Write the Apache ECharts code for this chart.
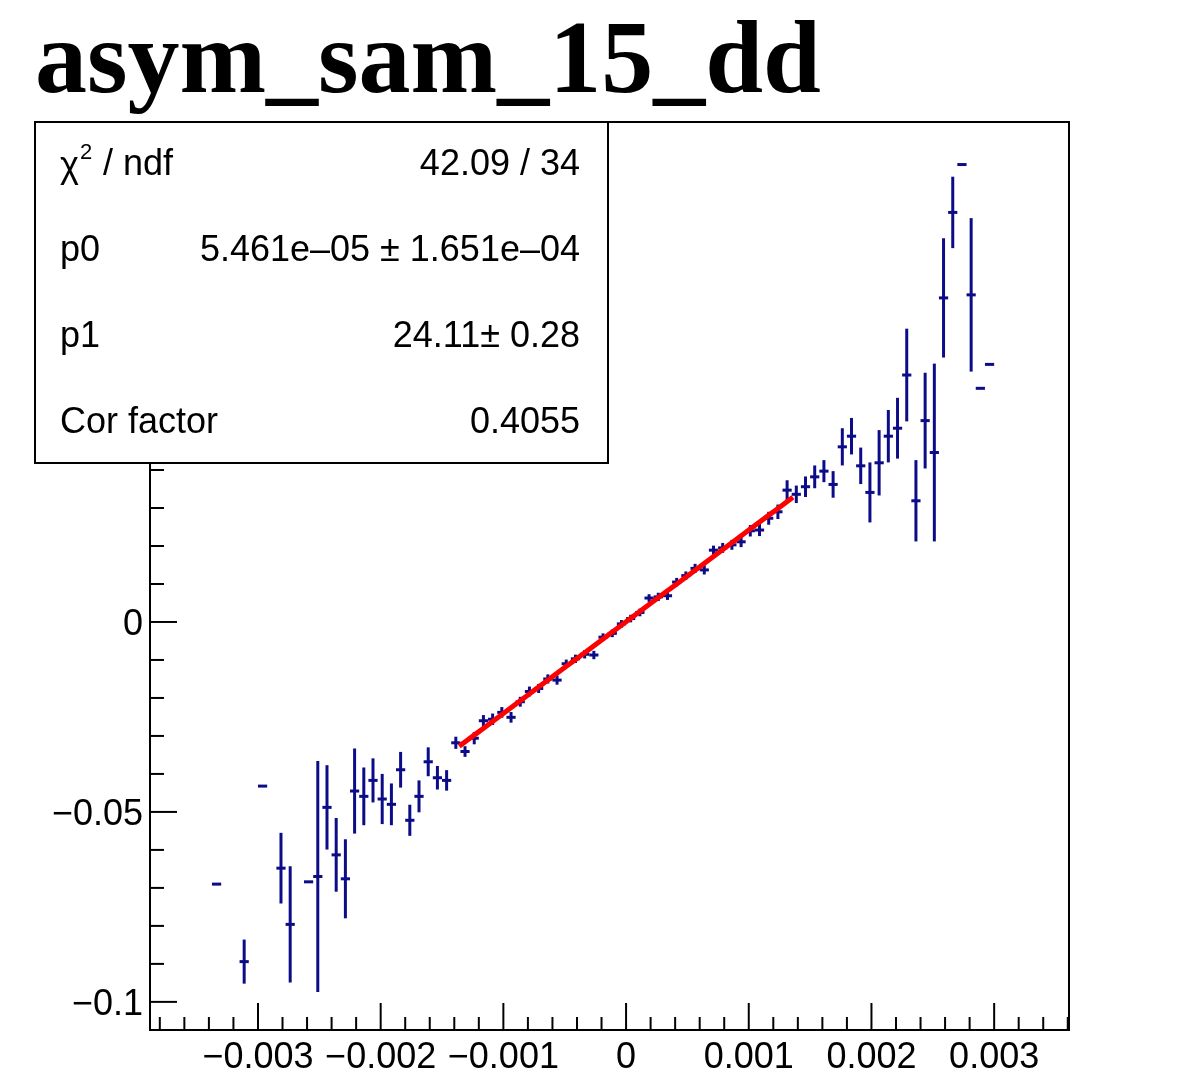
<!DOCTYPE html>
<html>
<head>
<meta charset="utf-8">
<script src="https://cdn.jsdelivr.net/npm/echarts@6/dist/echarts.min.js"></script>
<style>
  html, body { margin: 0; padding: 0; background: #fff; }
  #chart { width: 1177px; height: 1088px; }
</style>
</head>
<body>
<div id="chart"></div>
<script>
// ---------------- data ----------------
const titleText = 'asym_sam_15_dd';

// bin centres
const xs = [
  -0.0033375, -0.0031125, -0.0029625, -0.0028125, -0.0027375, -0.0025875, -0.0025125, -0.0024375,
  -0.0023625, -0.0022875, -0.0022125, -0.0021375, -0.0020625, -0.0019875, -0.0019125, -0.0018375,
  -0.0017625, -0.0016875, -0.0016125, -0.0015375, -0.0014625, -0.0013875, -0.0013125,
  -0.0012375, -0.0011625, -0.0010875, -0.0010125, -0.0009375, -0.0008625, -0.0007875, -0.0007125,
  -0.0006375, -0.0005625, -0.0004875, -0.0004125, -0.0003375, -0.0002625, -0.0001875, -0.0001125,
  -0.0000375, 0.0000375, 0.0001125, 0.0001875, 0.0002625, 0.0003375, 0.0004125, 0.0004875,
  0.0005625, 0.0006375, 0.0007125, 0.0007875, 0.0008625, 0.0009375, 0.0010125, 0.0010875,
  0.0011625, 0.0012375,
  0.0013125, 0.0013875, 0.0014625, 0.0015375, 0.0016125, 0.0016875, 0.0017625, 0.0018375,
  0.0019125, 0.0019875, 0.0020625, 0.0021375, 0.0022125, 0.0022875, 0.0023625, 0.0024375,
  0.0025125, 0.0025875, 0.0026625, 0.0027375, 0.0028125, 0.0028875, 0.0029625
];
// mean asymmetry per bin
const ys = [
  -0.0690, -0.0894, -0.0432, -0.0648, -0.0796, -0.0684, -0.0670, -0.0488,
  -0.0613, -0.0676, -0.0445, -0.0459, -0.0417, -0.0466, -0.0480, -0.0389,
  -0.0522, -0.0459, -0.0368, -0.0410, -0.0417, -0.0318, -0.0341,
  -0.0306, -0.0260, -0.0256, -0.0238, -0.0251, -0.0210, -0.0183, -0.0175,
  -0.0150, -0.0153, -0.0110, -0.0097, -0.0085, -0.0087, -0.0040, -0.0030,
  -0.0005, 0.0009, 0.0025, 0.0063, 0.0066, 0.0069, 0.0105, 0.0122,
  0.0141, 0.0137, 0.0189, 0.0195, 0.0203, 0.0211, 0.0240, 0.0242,
  0.0273, 0.0290,
  0.0347, 0.0336, 0.0356, 0.0382, 0.0397, 0.0362, 0.0461, 0.0489,
  0.0411, 0.0341, 0.0419, 0.0489, 0.0510, 0.0650, 0.0319, 0.0530,
  0.0446, 0.0853, 0.1078, 0.1204, 0.0861, 0.0615, 0.0678
];
// error on the mean
const errs = [
  0, 0.0058, 0, 0.0093, 0.0153, 0, 0.0304, 0.0111,
  0.0097, 0.0104, 0.0112, 0.0076, 0.0058, 0.0066, 0.0055, 0.0047,
  0.0041, 0.0042, 0.0038, 0.0031, 0.0027, 0.0016, 0.0014,
  0.0016, 0.0015, 0.0015, 0.0014, 0.0014, 0.0013, 0.0013, 0.0012,
  0.0012, 0.0012, 0.0011, 0.0011, 0.0011, 0.0011, 0.0010, 0.0010,
  0.0010, 0.0010, 0.0010, 0.0010, 0.0011, 0.0011, 0.0011, 0.0011,
  0.0012, 0.0012, 0.0012, 0.0013, 0.0013, 0.0014, 0.0015, 0.0016,
  0.0017, 0.0019,
  0.0026, 0.0023, 0.0027, 0.0030, 0.0029, 0.0035, 0.0049, 0.0048,
  0.0048, 0.0079, 0.0086, 0.0069, 0.0080, 0.0122, 0.0107, 0.0126,
  0.0234, 0.0157, 0.0094, 0.0, 0.0202, 0.0, 0.0
];
const binHalfWidth = 0.0000375;

// fit: pol1
const fitP0 = 5.461e-05;
const fitP1 = 24.11;
const fitRange = [-0.00136, 0.00136];

// stats box
const statLabels = ['p0', 'p1', 'Cor factor'];
const statValues = ['42.09 / 34', '5.461e\u201305 \u00b1 1.651e\u201304', '24.11\u00b1 0.28', '0.4055'];

// axes
const XMIN = -0.00388, XMAX = 0.00361;
const YMIN = -0.1074, YMAX = 0.1316;
const xMajorTicks = [-0.003, -0.002, -0.001, 0, 0.001, 0.002, 0.003];
const xTickLabels = ['\u22120.003', '\u22120.002', '\u22120.001', '0', '0.001', '0.002', '0.003'];
const xMinorStep = 0.0002;
const yMajorTicks = [-0.1, -0.05, 0, 0.05, 0.1];
const yTickLabels = ['\u22120.1', '\u22120.05', '0', '0.05', '0.1'];
const yMinorStep = 0.01;

// ---------------- build ----------------
const pointData = xs.map((x, i) => [x, ys[i], errs[i]]);

const fitData = [];
for (let i = 0; i <= 40; i++) {
  const x = fitRange[0] + (fitRange[1] - fitRange[0]) * i / 40;
  fitData.push([x, fitP0 + fitP1 * x]);
}

function isMajor(v, majors) {
  return majors.some(m => Math.abs(m - v) < 1e-9);
}
const xTickData = [];
for (let v = Math.ceil(XMIN / xMinorStep) * xMinorStep; v <= XMAX + 1e-12; v += xMinorStep) {
  const r = Math.round(v / xMinorStep) * xMinorStep;
  if (!isMajor(r, xMajorTicks)) xTickData.push([r, YMIN, 0, -1]);
}
xMajorTicks.forEach((v, i) => xTickData.push([v, YMIN, 1, i]));

const yTickData = [];
for (let v = Math.ceil(YMIN / yMinorStep) * yMinorStep; v <= YMAX + 1e-12; v += yMinorStep) {
  const r = Math.round(v / yMinorStep) * yMinorStep;
  if (!isMajor(r, yMajorTicks)) yTickData.push([XMIN, r, 0, -1]);
}
yMajorTicks.forEach((v, i) => yTickData.push([XMIN, v, 1, i]));

const AXIS_FONT = '36px "Liberation Sans", Arial, sans-serif';
const STAT_FONT = '36px "Liberation Sans", Arial, sans-serif';
const MARK_COLOR = '#0c0c88';

const chart = echarts.init(document.getElementById('chart'), null, { renderer: 'canvas' });

function statText(x, y, text, align) {
  return { type: 'text', x: x, y: y, z: 101,
    style: { text: text, font: STAT_FONT, fill: '#000', align: align, verticalAlign: 'middle' } };
}

const option = {
  backgroundColor: '#ffffff',
  animation: false,
  grid: {
    left: 150, top: 122, right: 1177 - 1069, bottom: 1088 - 1030,
    show: true, borderColor: '#000', borderWidth: 2, backgroundColor: 'transparent'
  },
  xAxis: {
    type: 'value', min: XMIN, max: XMAX,
    axisLine: { show: false }, axisTick: { show: false },
    axisLabel: { show: false }, splitLine: { show: false }
  },
  yAxis: {
    type: 'value', min: YMIN, max: YMAX,
    axisLine: { show: false }, axisTick: { show: false },
    axisLabel: { show: false }, splitLine: { show: false }
  },
  series: [
    {
      name: 'points', type: 'custom', data: pointData, z: 3, clip: false,
      renderItem: function (params, api) {
        const x = api.value(0), y = api.value(1), e = api.value(2);
        const pl = api.coord([x - binHalfWidth, y]);
        const pr = api.coord([x + binHalfWidth, y]);
        const children = [{
          type: 'line',
          shape: { x1: pl[0], y1: pl[1], x2: pr[0], y2: pr[1] },
          style: { stroke: MARK_COLOR, lineWidth: 3 }
        }];
        if (e > 0) {
          const pt = api.coord([x, y + e]);
          const pb = api.coord([x, y - e]);
          children.push({
            type: 'line',
            shape: { x1: pt[0], y1: pt[1], x2: pb[0], y2: pb[1] },
            style: { stroke: MARK_COLOR, lineWidth: 3 }
          });
        }
        return { type: 'group', children: children };
      }
    },
    {
      name: 'fit', type: 'line', data: fitData, showSymbol: false, z: 5,
      lineStyle: { color: '#ff0000', width: 5 }, silent: true
    },
    {
      name: 'xticks', type: 'custom', data: xTickData, z: 4, clip: false, silent: true,
      renderItem: function (params, api) {
        const v = api.value(0), major = api.value(2), li = api.value(3);
        const p = api.coord([v, YMIN]);
        const len = major ? 27 : 13;
        const children = [{
          type: 'line',
          shape: { x1: p[0], y1: p[1], x2: p[0], y2: p[1] - len },
          style: { stroke: '#000', lineWidth: 2 }
        }];
        if (major && li >= 0) {
          children.push({
            type: 'text', x: p[0], y: p[1] + 10,
            style: { text: xTickLabels[li], font: AXIS_FONT, fill: '#000', align: 'center', verticalAlign: 'top' }
          });
        }
        return { type: 'group', children: children };
      }
    },
    {
      name: 'yticks', type: 'custom', data: yTickData, z: 4, clip: false, silent: true,
      renderItem: function (params, api) {
        const v = api.value(1), major = api.value(2), li = api.value(3);
        const p = api.coord([XMIN, v]);
        const len = major ? 27 : 14;
        const children = [{
          type: 'line',
          shape: { x1: p[0], y1: p[1], x2: p[0] + len, y2: p[1] },
          style: { stroke: '#000', lineWidth: 2 }
        }];
        if (major && li >= 0) {
          children.push({
            type: 'text', x: p[0] - 7, y: p[1] + 3,
            style: { text: yTickLabels[li], font: AXIS_FONT, fill: '#000', align: 'right', verticalAlign: 'middle' }
          });
        }
        return { type: 'group', children: children };
      }
    }
  ],
  graphic: [
    {
      type: 'text', x: 35, y: 65, z: 100,
      style: { text: titleText, font: 'bold 104px "Liberation Serif", "Times New Roman", serif', fill: '#000', align: 'left', verticalAlign: 'middle' }
    },
    {
      type: 'rect', z: 100,
      shape: { x: 35, y: 122, width: 573, height: 341 },
      style: { fill: '#ffffff', stroke: '#000', lineWidth: 2 }
    },
    statText(60, 167, '\u03c7', 'left'),
    { type: 'text', x: 80, y: 153, z: 101, style: { text: '2', font: '22px "Liberation Sans", Arial, sans-serif', fill: '#000', align: 'left', verticalAlign: 'middle' } },
    statText(93, 165, ' / ndf', 'left'),
    statText(60, 251, statLabels[0], 'left'),
    statText(60, 337, statLabels[1], 'left'),
    statText(60, 423, statLabels[2], 'left'),
    statText(580, 165, statValues[0], 'right'),
    statText(580, 251, statValues[1], 'right'),
    statText(580, 337, statValues[2], 'right'),
    statText(580, 423, statValues[3], 'right')
  ]
};
chart.setOption(option);
</script>
</body>
</html>
